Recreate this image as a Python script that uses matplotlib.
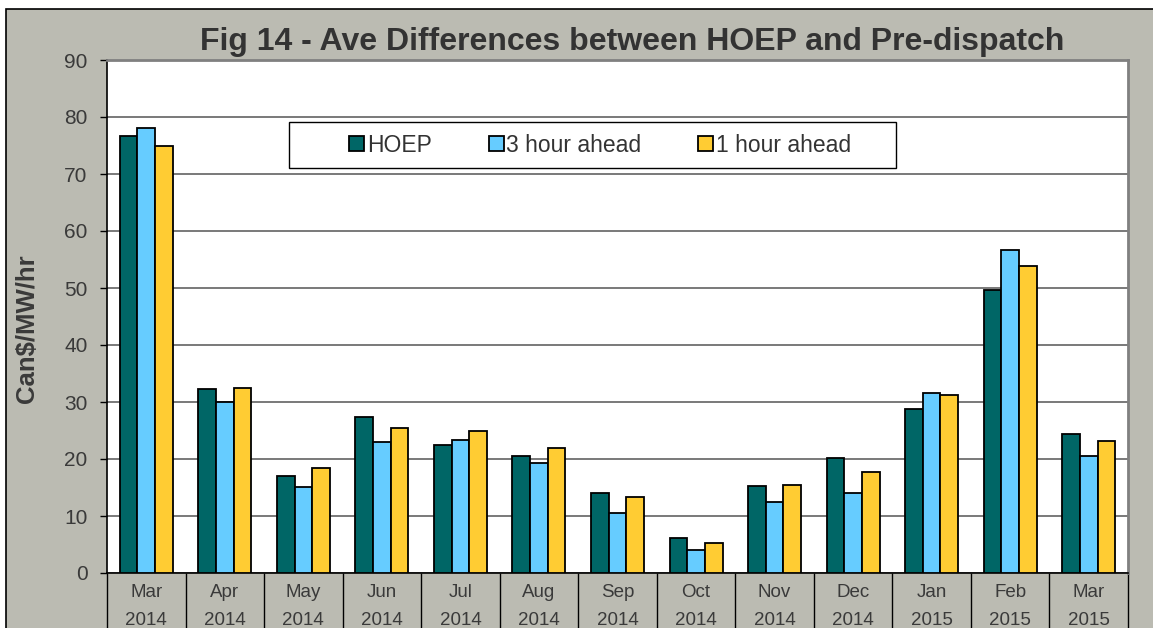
import numpy as np
import matplotlib
matplotlib.use('Agg')
import matplotlib.pyplot as plt
from matplotlib.patches import Rectangle

months = ['Mar', 'Apr', 'May', 'Jun', 'Jul', 'Aug', 'Sep', 'Oct', 'Nov', 'Dec', 'Jan', 'Feb', 'Mar']
years = ['2014'] * 10 + ['2015'] * 3
hoep = [76.7, 32.3, 17.0, 27.3, 22.5, 20.6, 14.1, 6.2, 15.2, 20.2, 28.7, 49.6, 24.3]
three_hour = [78.0, 30.0, 15.1, 23.0, 23.3, 19.3, 10.6, 4.1, 12.4, 14.1, 31.5, 56.7, 20.5]
one_hour = [75.0, 32.4, 18.5, 25.5, 24.9, 21.9, 13.3, 5.3, 15.4, 17.7, 31.2, 53.9, 23.2]

series = [('HOEP', hoep, '#006666'),
          ('3 hour ahead', three_hour, '#66CCFF'),
          ('1 hour ahead', one_hour, '#FFCC33')]

plt.rcParams['font.family'] = ['Liberation Sans', 'DejaVu Sans']

W, H = 1153, 628
fig = plt.figure(figsize=(W / 100, H / 100), dpi=100)
fig.patch.set_facecolor('white')

# gray chart area with black border (top/left)
bg_ax = fig.add_axes([0, 0, 1, 1], zorder=-1)
bg_ax.set_axis_off()
bg_ax.add_patch(Rectangle((6 / W, -0.1), 1.2, (H - 9) / H + 0.1, transform=fig.transFigure,
                          facecolor='#BBBBB2', edgecolor='black', linewidth=1.2))

ax = fig.add_axes([107 / W, (H - 573) / H, (1128 - 107) / W, (573 - 60) / H], zorder=1)
ax.set_facecolor('white')

x = np.arange(len(months))
bw = 0.225
for i, (name, vals, col) in enumerate(series):
    ax.bar(x + (i - 1) * bw, vals, bw, color=col, edgecolor='black', linewidth=1.3,
           label=name, zorder=3)

ax.set_xlim(-0.5, len(months) - 0.5)
ax.set_ylim(0, 90)
ax.set_yticks(range(0, 91, 10))
ax.yaxis.grid(True, color='#6E6E6E', linewidth=1.3, zorder=1)
ax.set_axisbelow(True)
ax.tick_params(axis='y', labelsize=15, labelcolor='#3A3A3A', length=5, width=1, pad=9)

ax.set_xticks(x)
ax.set_xticklabels([f'{m}\n{y}' for m, y in zip(months, years)], linespacing=1.8)
ax.tick_params(axis='x', which='major', length=0, labelsize=13.5, labelcolor='#3A3A3A', pad=8)
# category separators running down through the label area
ax.set_xticks(np.arange(-0.5, len(months)), minor=True)
ax.tick_params(axis='x', which='minor', length=60, width=1, color='black', direction='out')

for s in ['top', 'right']:
    ax.spines[s].set_color('#808080')
    ax.spines[s].set_linewidth(2)
ax.spines['left'].set_linewidth(1.2)
ax.spines['bottom'].set_linewidth(1.2)

fig.text(27 / W, 1 - 329 / H, 'Can$/MW/hr', rotation=90, ha='center', va='center',
         fontsize=18.5, fontweight='bold', color='#3A3A3A')

fig.text(632 / W, 1 - 42 / H, 'Fig 14 - Ave Differences between HOEP and Pre-dispatch',
         ha='center', va='center', fontsize=23, fontweight='bold', color='#333333')

# legend box
ax.add_patch(Rectangle((289 / W, 1 - 168 / H), (896 - 289) / W, 46 / H,
                       transform=fig.transFigure, facecolor='white', clip_on=False,
                       edgecolor='black', linewidth=1, zorder=4))
leg = ax.legend(loc='center left', bbox_to_anchor=(338 / W, 1 - 145 / H),
                bbox_transform=fig.transFigure, ncol=3, frameon=False, fontsize=16.5,
                handlelength=0.65, handleheight=0.65, handletextpad=0.1, columnspacing=2.5,
                borderpad=0)
leg.set_zorder(5)
for t in leg.get_texts():
    t.set_color('#333333')

fig.savefig('out.png', dpi=100, facecolor=fig.get_facecolor())
